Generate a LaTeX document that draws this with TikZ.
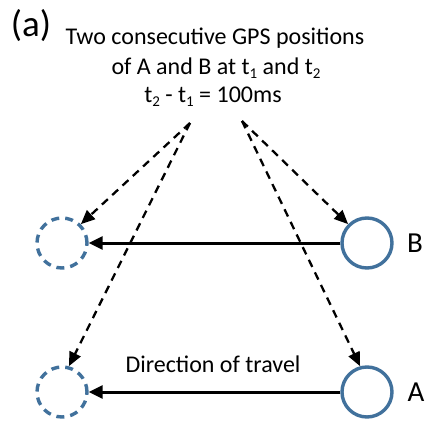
\documentclass[tikz,border=0pt]{standalone}
\usepackage{fontspec}
\setmainfont{Carlito}
\usetikzlibrary{arrows.meta}
\definecolor{cblue}{HTML}{41719C}
\newcommand{\mysub}[1]{\raisebox{-0.35ex}{\fontsize{15}{15}\selectfont #1}}
\begin{document}
\begin{tikzpicture}[x=1pt,y=-1pt,
  curpos/.style={circle,draw=cblue,line width=3.4pt,minimum size=50pt,inner sep=0pt},
  oldpos/.style={curpos,dash pattern=on 8pt off 6pt},
  travel/.style={line width=3pt,-{Triangle[length=14pt,width=13pt]}},
  gps/.style={line width=2.3pt,dash pattern=on 8pt off 6pt,-{Triangle[length=14pt,width=12pt]}},
  txt/.style={font=\fontsize{24}{28}\selectfont,inner sep=0pt}]
\useasboundingbox (0,0) rectangle (432,423);
\node[txt,font=\fontsize{37}{40}\selectfont] (lab) at (31,26) {(a)};
\node[txt] (t1) at (215,38) {Two consecutive GPS positions};
\node[txt] (t2) at (216,68) {of A and B at t\mysub{1} and t\mysub{2}};
\node[txt] (t3) at (213,97) {t\mysub{2} - t\mysub{1} = 100ms};
\node[curpos] (B) at (367,243) {};
\node[curpos] (A) at (367,392) {};
\node[oldpos] (B0) at (62,243) {};
\node[oldpos] (A0) at (62,392) {};
\node[txt,font=\fontsize{29}{32}\selectfont] (Bl) at (415,243) {B};
\node[txt,font=\fontsize{29}{32}\selectfont] (Al) at (416,392) {A};
\node[txt] (dir) at (213,364) {Direction of travel};
\coordinate (L) at (190,123);
\coordinate (R) at (242,121);
\draw[travel] (B) -- (B0);
\draw[travel] (A) -- (A0);
\draw[gps] (L) -- (B0.north east);
\draw[gps] (L) -- (A0.75);
\draw[gps] (R) -- (B.north west);
\draw[gps] (R) -- (A.105);
\end{tikzpicture}
\end{document}
